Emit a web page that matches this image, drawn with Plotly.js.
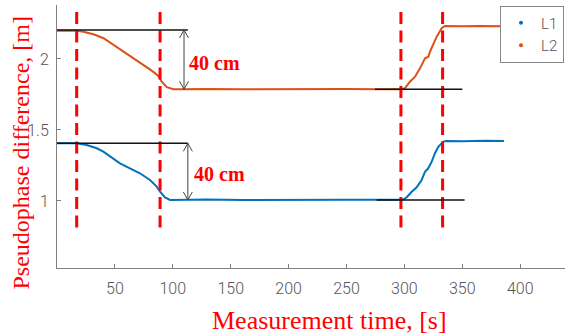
<!DOCTYPE html>
<html>
<head>
<meta charset="utf-8">
<script src="https://cdn.plot.ly/plotly-3.0.1.min.js"></script>
<style>html,body{margin:0;padding:0;background:#fff;}#chart{width:565px;height:336px;}</style>
</head>
<body>
<div id="chart"></div>
<script>
// ---- data ----
var seriesNames = ['L1', 'L2'];
var timeL1 = [0, 17, 25.6, 34.3, 40, 48.6, 54.4, 63, 71.6, 80.3, 86.1, 89, 93.3, 97.6, 106, 130, 160, 190, 220, 250, 278.9, 299, 302, 306.3, 310.6, 314.9, 317.8, 320.6, 323.6, 326.4, 329.3, 333.6, 336.5, 350, 370, 386];
var valL1 = [1.406, 1.406, 1.394, 1.371, 1.347, 1.300, 1.265, 1.230, 1.195, 1.148, 1.101, 1.065, 1.025, 1.007, 1.008, 1.010, 1.007, 1.009, 1.007, 1.008, 1.008, 1.010, 1.026, 1.065, 1.096, 1.148, 1.206, 1.230, 1.277, 1.336, 1.382, 1.418, 1.423, 1.421, 1.424, 1.422];
var timeL2 = [0, 17, 22.8, 31.5, 40.2, 48.8, 57.5, 66.2, 74.8, 81.8, 87.5, 90.4, 94.8, 100.5, 106, 130, 160, 190, 220, 250, 278.9, 297.7, 300.5, 304.8, 309.2, 313.5, 317.8, 320.7, 322.1, 325, 327.9, 332.2, 335.1, 350, 365, 383];
var valL2 = [2.199, 2.199, 2.192, 2.174, 2.146, 2.099, 2.052, 2.005, 1.958, 1.918, 1.880, 1.840, 1.801, 1.787, 1.787, 1.789, 1.786, 1.788, 1.786, 1.789, 1.787, 1.787, 1.794, 1.840, 1.875, 1.934, 2.005, 2.016, 2.051, 2.110, 2.157, 2.216, 2.232, 2.230, 2.233, 2.231];

// event markers (red dashed verticals)
var eventTimes = [17, 89, 297, 333];
var eventSpan = [2.33, 0.79];

// black reference levels: [x0, x1, y]
var refX0 = [0, 0, 274.6, 276];
var refX1 = [113, 113, 350, 352];
var refY = [2.204, 1.406, 1.787, 1.007];

// 40 cm double arrows
var arrowX = [109.7, 113];
var arrowTop = [2.204, 1.406];
var arrowBot = [1.787, 1.007];
var arrowLabel = '40 cm';
var labelX = [112.3, 117];
var labelY = [1.974, 1.19];

var xTicks = [50, 100, 150, 200, 250, 300, 350, 400];
var yTicks = [1, 1.5, 2];
var xTitle = 'Measurement time, [s]';
var yTitle = 'Pseudophase difference, [m]';

// ---- styling ----
var colors = ['#0072BD', '#D95319'];
var tickFont = {family: 'Roboto, Liberation Sans Narrow, sans-serif', size: 16, weight: 300, color: '#555555'};
var serif = 'Liberation Serif, Times New Roman, DejaVu Serif';
var xRange = [0, 438.7];
var yRange = [0.528, 2.380];
var pxPerX = 508 / (xRange[1] - xRange[0]);
var pxPerY = 263 / (yRange[1] - yRange[0]);

var traces = [
  {x: timeL1, y: valL1, mode: 'lines', line: {color: colors[0], width: 2}, showlegend: false, hoverinfo: 'skip'},
  {x: timeL2, y: valL2, mode: 'lines', line: {color: colors[1], width: 2}, showlegend: false, hoverinfo: 'skip'}
];
seriesNames.forEach(function (n, i) {
  traces.push({x: [null], y: [null], name: n, mode: 'markers', marker: {color: colors[i], size: 4}, showlegend: true});
});

var shapes = [];
eventTimes.forEach(function (t) {
  shapes.push({type: 'line', xref: 'x', yref: 'y', x0: t, x1: t, y0: eventSpan[0], y1: eventSpan[1],
    line: {color: '#FF0000', width: 3, dash: '12px,6.5px'}});
});
refY.forEach(function (y, i) {
  shapes.push({type: 'line', xref: 'x', yref: 'y', x0: refX0[i], x1: refX1[i], y0: y, y1: y,
    line: {color: '#111111', width: 1.5}});
});
var headW = 4.5 / pxPerX, headL = 8 / pxPerY;
arrowX.forEach(function (x, i) {
  var t = arrowTop[i], b = arrowBot[i];
  var p = 'M' + x + ',' + t + 'L' + x + ',' + b +
    ' M' + (x - headW) + ',' + (t - headL) + 'L' + x + ',' + t + 'L' + (x + headW) + ',' + (t - headL) +
    ' M' + (x - headW) + ',' + (b + headL) + 'L' + x + ',' + b + 'L' + (x + headW) + ',' + (b + headL);
  shapes.push({type: 'path', xref: 'x', yref: 'y', path: p, line: {color: '#444444', width: 1}});
});

var annotations = [];
labelX.forEach(function (x, i) {
  annotations.push({x: x, y: labelY[i], xref: 'x', yref: 'y', text: '<b>' + arrowLabel + '</b>', showarrow: false,
    xanchor: 'left', yanchor: 'middle', font: {family: serif, size: 20, color: '#FF0000'}});
});
annotations.push({x: 0.537, y: -0.198, xref: 'paper', yref: 'paper', text: xTitle, showarrow: false,
  xanchor: 'center', yanchor: 'middle', font: {family: serif, size: 26, color: '#FF0000'}});
annotations.push({x: -0.07, y: 0.437, xref: 'paper', yref: 'paper', text: yTitle, showarrow: false, textangle: -90,
  xanchor: 'center', yanchor: 'middle', font: {family: serif, size: 24, color: '#FF0000'}});

var layout = {
  width: 565, height: 336,
  margin: {l: 57, r: 0, t: 5, b: 68},
  paper_bgcolor: '#ffffff', plot_bgcolor: '#ffffff',
  showlegend: true,
  legend: {x: 0.872, y: 0.998, xanchor: 'left', yanchor: 'top', bgcolor: '#ffffff',
    bordercolor: '#888888', borderwidth: 1, tracegroupgap: 0,
    font: {family: 'Roboto, sans-serif', size: 15, weight: 300, color: '#555555'}},
  xaxis: {range: xRange, tickvals: xTicks, ticks: 'inside', ticklen: 4, tickcolor: '#808080',
    showline: true, linecolor: '#808080', linewidth: 1, showgrid: false, zeroline: false,
    tickfont: tickFont, ticklabelstandoff: 6, fixedrange: true},
  yaxis: {range: yRange, tickvals: yTicks, ticktext: ['1', '1.5', '2'], ticks: 'inside', ticklen: 4, tickcolor: '#808080',
    showline: true, linecolor: '#808080', linewidth: 1, showgrid: false, zeroline: false,
    tickfont: tickFont, ticklabelstandoff: 4, fixedrange: true},
  shapes: shapes,
  annotations: annotations
};

Plotly.newPlot('chart', traces, layout, {staticPlot: true, displayModeBar: false});
</script>
</body>
</html>
